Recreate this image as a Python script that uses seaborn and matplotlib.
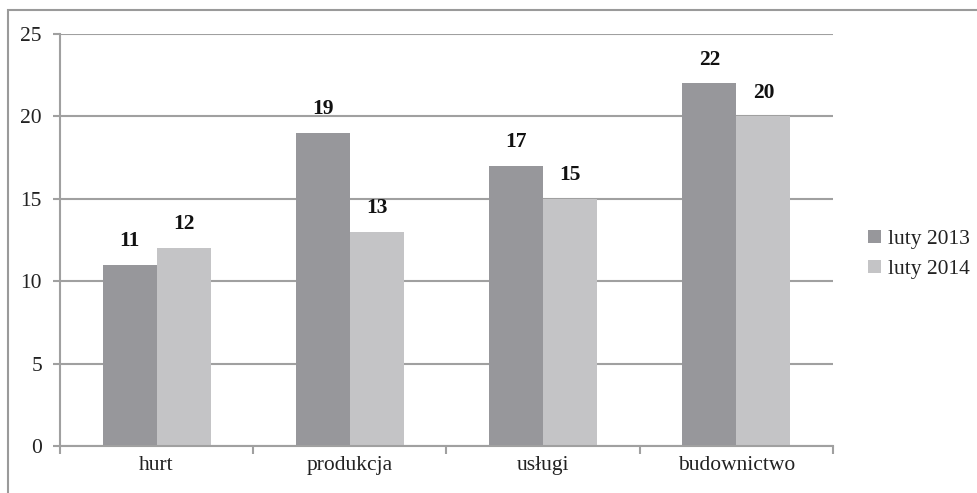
import pandas as pd
import matplotlib.pyplot as plt
import seaborn as sns
from matplotlib.patches import Rectangle

categories = ['hurt', 'produkcja', 'usługi', 'budownictwo']
series = ['luty 2013', 'luty 2014']
values_2013 = [11, 19, 17, 22]
values_2014 = [12, 13, 15, 20]

df = pd.DataFrame({
    'kategoria': categories * 2,
    'okres': [series[0]] * 4 + [series[1]] * 4,
    'wartosc': values_2013 + values_2014,
})

sns.set_style('white')
plt.rcParams['font.family'] = ['Liberation Serif', 'DejaVu Serif']

fig = plt.figure(figsize=(9.77, 4.93), dpi=100)
ax = fig.add_axes([60 / 977, 47 / 493, 773 / 977, 412 / 493])

# frame around the whole chart (cut off on right/bottom like the source)
fig.patches.append(Rectangle((8 / 977, -0.05), 1.0, 1.05 - 10 / 493,
                             transform=fig.transFigure, fill=False,
                             edgecolor='#9a9a9a', linewidth=1.5))

palette = {'luty 2013': '#97979b', 'luty 2014': '#c4c4c6'}
sns.barplot(data=df, x='kategoria', y='wartosc', hue='okres', palette=palette,
            width=0.56, gap=0, saturation=1, linewidth=0, ax=ax, zorder=3)

for cont in ax.containers:
    ax.bar_label(cont, padding=10, fontsize=15.5, fontweight='bold', color='#111111')

ax.set_ylim(0, 25)
ax.set_yticks([0, 5, 10, 15, 20, 25])
ax.set_xlim(-0.5, 3.5)
ax.grid(axis='y', color='#a0a0a0', linewidth=1.5, zorder=0)
ax.set_axisbelow(True)
for s in ['top', 'right']:
    ax.spines[s].set_visible(False)
for s in ['left', 'bottom']:
    ax.spines[s].set_color('#a0a0a0')
    ax.spines[s].set_linewidth(1.5)
    ax.spines[s].set_zorder(4)

ax.set_xlabel('')
ax.set_ylabel('')
ax.tick_params(axis='y', length=5, width=1.5, color='#a0a0a0', labelsize=15.5,
               labelcolor='#222222', pad=8, left=True)
ax.set_xticks([0, 1, 2, 3])
ax.set_xticklabels(categories)
ax.tick_params(axis='x', length=0, labelsize=15.5, labelcolor='#222222', pad=7)
# minor ticks at group boundaries
ax.set_xticks([-0.5, 0.5, 1.5, 2.5, 3.5], minor=True)
ax.tick_params(axis='x', which='minor', length=6, width=1.5, color='#a0a0a0', bottom=True)

leg = ax.legend(loc='center left', bbox_to_anchor=(1.02, 0.465), frameon=False,
                fontsize=15.5, handlelength=0.6, handleheight=0.6, handletextpad=0.35,
                labelspacing=0.5)
for t in leg.get_texts():
    t.set_color('#222222')

fig.savefig('out.png', dpi=100)
